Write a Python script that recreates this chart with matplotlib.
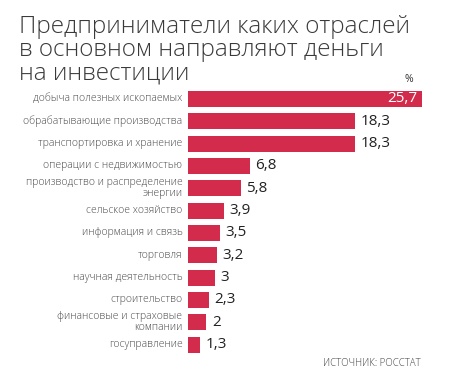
import matplotlib
matplotlib.use("Agg")
import matplotlib.pyplot as plt

# Data
title_lines = ["Предприниматели каких отраслей", "в основном направляют деньги", "на инвестиции"]
categories = [
    "добыча полезных ископаемых",
    "обрабатывающие производства",
    "транспортировка и хранение",
    "операции с недвижимостью",
    "производство и распределение\nэнергии",
    "сельское хозяйство",
    "информация и связь",
    "торговля",
    "научная деятельность",
    "строительство",
    "финансовые и страховые\nкомпании",
    "госуправление",
]
values = [25.7, 18.3, 18.3, 6.8, 5.8, 3.9, 3.5, 3.2, 3.0, 2.3, 2.0, 1.3]
value_labels = ["25,7", "18,3", "18,3", "6,8", "5,8", "3,9", "3,5", "3,2", "3", "2,3", "2", "1,3"]

BAR_COLOR = "#D22B4C"
FONT = "Open Sans"

fig = plt.figure(figsize=(4.5, 3.8), dpi=100)
fig.patch.set_facecolor("white")

# axes placed in pixel terms: bars start at x=188px
W, H = 450, 380
ax = fig.add_axes([188 / W, 1 - 355.7 / H, 262 / W, 267.9 / H])
ypos = list(range(len(values)))
ax.barh(ypos, values, height=0.72, color=BAR_COLOR)
ax.set_ylim(len(values) - 0.5, -0.5)
ax.set_xlim(0, 262 / 234 * 25.7)
ax.axis("off")

for y, v, lab, cat in zip(ypos, values, value_labels, categories):
    # category label left of bar
    ax.annotate(cat, xy=(0, y), xytext=(-4, 0), textcoords="offset points",
                ha="right", va="center", fontsize=7.5, color="#4a4a4a",
                family=FONT, fontweight="light", linespacing=0.95)
    if y == 0:
        ax.annotate(lab, xy=(v, y), xytext=(-3, 0), textcoords="offset points",
                    ha="right", va="center", fontsize=11, color="white", family=FONT)
    else:
        ax.annotate(lab, xy=(v, y), xytext=(4, 0), textcoords="offset points",
                    ha="left", va="center", fontsize=11, color="#222222", family=FONT)

# title, one line at a time
for i, line in enumerate(title_lines):
    fig.text(19 / W, 1 - (33 + 23 * i) / H, line, ha="left", va="baseline",
             fontsize=17.5, color="#3a3a3a", family=FONT, fontweight="light")
fig.text(413 / W, 1 - 80 / H, "%", ha="right", va="center", fontsize=7.5, color="#333333", family=FONT)
fig.text(421 / W, 1 - 364 / H, "ИСТОЧНИК: РОССТАТ", ha="right", va="center",
         fontsize=7, color="#444444", family=FONT, fontweight="light")

fig.savefig("out.png", dpi=100)
